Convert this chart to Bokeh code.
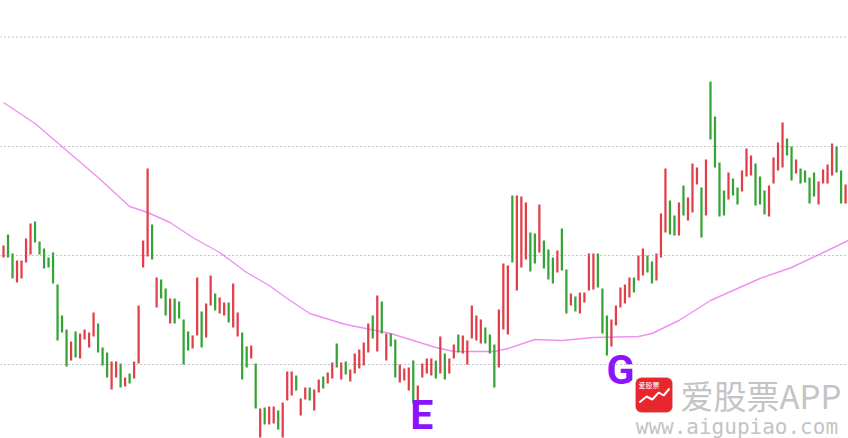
from bokeh.plotting import figure
from bokeh.models import Range1d, Span, ColumnDataSource, BoxAnnotation, Label
from bokeh.core.properties import value
from bokeh.embed import file_html
from bokeh.resources import INLINE

highs = [2.55, 2.66, 2.47, 2.40, 2.40, 2.62, 2.77, 2.79, 2.59, 2.52,
         2.43, 2.48, 2.16, 1.85, 1.71, 1.59, 1.69, 1.67, 1.71, 1.68,
         1.88, 1.77, 1.53, 1.48, 1.39, 1.39, 1.37, 1.23, 1.27, 1.39,
         1.95, 2.60, 3.32, 2.76, 2.23, 2.21, 2.12, 2.02, 2.02, 1.99,
         1.81, 1.69, 1.65, 2.23, 1.89, 1.97, 2.25, 2.07, 2.03, 1.98,
         1.98, 2.17, 1.88, 1.68, 1.54, 1.55, 1.37, 0.92, 0.93, 0.94,
         0.94, 0.90, 0.98, 1.29, 1.29, 1.25, 1.02, 1.13, 1.13, 1.11,
         1.21, 1.24, 1.28, 1.38, 1.57, 1.38, 1.39, 1.31, 1.47, 1.51,
         1.58, 1.77, 1.85, 2.05, 1.99, 1.67, 1.67, 1.61, 1.36, 1.32,
         1.33, 1.40, 1.15, 1.37, 1.42, 1.42, 1.40, 1.64, 1.47, 1.42,
         1.56, 1.66, 1.65, 1.60, 1.95, 1.85, 1.81, 1.73, 1.66, 1.56,
         1.91, 2.37, 2.35, 3.05, 3.05, 3.04, 2.98, 2.68, 2.67, 2.96,
         2.60, 2.51, 2.43, 2.50, 2.72, 2.31, 2.07, 2.04, 2.08, 2.08,
         2.47, 2.47, 2.47, 2.12, 1.85, 1.81, 1.95, 2.13, 2.16, 2.23,
         2.23, 2.45, 2.52, 2.45, 2.39, 2.47, 2.87, 3.32, 3.00, 2.85,
         2.98, 3.15, 3.03, 3.37, 3.33, 3.13, 3.41, 4.19, 3.84, 3.38,
         3.10, 3.28, 3.22, 3.13, 3.30, 3.52, 3.45, 3.37, 3.24, 3.10,
         3.15, 3.43, 3.58, 3.78, 3.62, 3.54, 3.41, 3.32, 3.30, 3.23,
         3.28, 3.19, 3.31, 3.36, 3.57, 3.54, 3.30, 3.16]

lows = [2.43, 2.43, 2.22, 2.18, 2.22, 2.38, 2.46, 2.58, 2.46, 2.32,
        2.33, 2.17, 1.60, 1.68, 1.34, 1.40, 1.43, 1.42, 1.61, 1.53,
        1.64, 1.48, 1.35, 1.23, 1.11, 1.23, 1.13, 1.14, 1.17, 1.22,
        1.37, 2.33, 2.44, 2.41, 1.93, 2.02, 1.85, 1.77, 1.77, 1.82,
        1.36, 1.50, 1.52, 1.65, 1.53, 1.63, 1.95, 1.90, 1.87, 1.85,
        1.78, 1.73, 1.64, 1.21, 1.33, 1.42, 0.92, 0.63, 0.76, 0.76,
        0.77, 0.71, 0.63, 1.00, 1.05, 1.10, 0.85, 1.01, 1.00, 0.90,
        1.08, 1.12, 1.17, 1.22, 1.33, 1.21, 1.26, 1.19, 1.27, 1.32,
        1.35, 1.48, 1.62, 1.49, 1.67, 1.40, 1.54, 1.23, 1.18, 1.20,
        1.10, 0.97, 0.98, 1.23, 1.27, 1.25, 1.22, 1.27, 1.21, 1.27,
        1.42, 1.48, 1.47, 1.36, 1.62, 1.60, 1.57, 1.57, 1.47, 1.13,
        1.33, 1.71, 1.66, 2.38, 2.10, 2.33, 2.41, 2.29, 2.37, 2.48,
        2.32, 2.21, 2.17, 2.28, 2.30, 1.87, 1.95, 1.89, 1.87, 1.98,
        2.10, 2.11, 2.13, 1.67, 1.45, 1.54, 1.75, 1.93, 1.97, 2.03,
        2.08, 2.20, 2.25, 2.28, 2.17, 2.20, 2.43, 2.68, 2.66, 2.65,
        2.65, 2.85, 2.80, 2.88, 3.16, 2.63, 2.85, 3.61, 3.33, 2.84,
        2.85, 3.01, 3.05, 2.96, 3.09, 3.24, 3.25, 2.95, 2.96, 2.86,
        2.84, 3.17, 3.30, 3.33, 3.45, 3.20, 3.27, 3.17, 3.18, 2.97,
        3.04, 2.96, 3.17, 3.17, 3.25, 3.28, 2.97, 2.97]

# R = rising bar (red), G = falling bar (green)
dirs = list("RGGRRRRGGGGGGGGRGRRRRGGGRRGRGRRRRGRGGRGGGGRRGRRGRRGRRGGRGRGRRGRRRGRRGRRGRRGRGRRRRRGRGRGGRRRGRRRRGRGRRGRRRRRGGGRRRGRRRGGRGGGRGGRGRRRRGGGRRRRRGRRGGRRRGGRGRRRGRGGGGRGGRRRGGGRRRRGGRGGGGRRRRGGR")

ma_idx = [0, 7, 14, 21, 28, 32, 37, 42, 48, 54, 59, 63, 68, 76, 86, 96, 100,
          109, 112, 118, 124, 131, 141, 144, 150, 157, 168, 175, 183, 187.6]
ma_val = [3.98, 3.77, 3.50, 3.23, 2.94, 2.88, 2.78, 2.63, 2.48, 2.28, 2.15, 2.02,
          1.87, 1.76, 1.67, 1.53, 1.49, 1.49, 1.52, 1.61, 1.60, 1.63, 1.64, 1.67,
          1.80, 2.00, 2.22, 2.33, 2.50, 2.60]

grid_levels = [1.36, 2.45, 3.54, 4.635]

labels = ["E", "G"]
label_idx = [90.3, 133.9]
label_val = [0.86, 1.31]

RED = "#e23e4a"
GREEN = "#35a335"

n = len(highs)
src = ColumnDataSource(dict(
    x=list(range(n)), top=highs, bottom=lows,
    color=[RED if d == "R" else GREEN for d in dirs[:n]],
))

p = figure(width=848, height=438, output_backend="svg", toolbar_location=None,
           x_range=Range1d(-0.67, 187.65), y_range=Range1d(0.62, 5.0),
           x_axis_location=None, y_axis_location=None, min_border=0,
           background_fill_color="white", border_fill_color="white")
p.outline_line_color = None
p.grid.visible = False

for g in grid_levels:
    p.add_layout(Span(location=g, dimension="width", line_color="#8a8a8a",
                      line_dash="1 3", line_width=1.2))

p.line(ma_idx, ma_val, line_color="#f090f0", line_width=1.4)

p.vbar(x="x", top="top", bottom="bottom", width=0.5, fill_color="color",
       line_color=None, source=src)

p.text(x=label_idx, y=label_val, text=labels, text_font=value("Roboto"),
       text_font_style="bold", text_font_size="41px", text_color="#8c14fc",
       text_baseline="alphabetic", text_align="left")

# watermark
p.add_layout(BoxAnnotation(left=140.35, right=148.57, top=1.23, bottom=0.88,
                           fill_color="#e8262d", fill_alpha=1.0, line_color="#d8d8d8",
                           line_width=1, border_radius=6))
p.line([141.2, 142.8, 144.1, 145.5, 146.6, 147.9], [0.98, 1.04, 1.01, 1.08, 1.05, 1.12],
       line_color="white", line_width=2, level="overlay")
p.add_layout(Label(x=141.0, y=1.21, text="爱股票", text_color="white",
                   text_font_size="7px", text_font="Noto Sans CJK SC",
                   text_baseline="top"))
p.add_layout(Label(x=150.35, y=1.06, text="爱股票APP", text_color="#c4c4c4",
                   text_font_size="33px", text_font="Noto Sans CJK SC",
                   text_baseline="middle"))
p.add_layout(Label(x=140.4, y=0.735, text="www.aigupiao.com", text_color="#c4c4c4",
                   text_font_size="21px", text_font="DejaVu Sans Mono",
                   text_baseline="middle"))

open("out.html", "w").write(file_html(p, INLINE))
